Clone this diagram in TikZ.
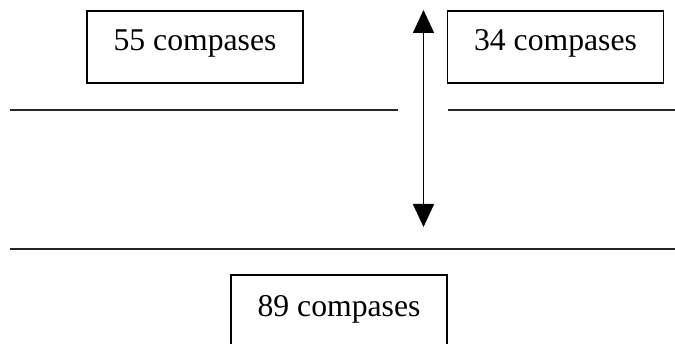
\documentclass[tikz,border=0pt]{standalone}
\usepackage{fontspec}
\setmainfont{Liberation Serif}
\usetikzlibrary{arrows.meta}
\begin{document}
\begin{tikzpicture}[x=1pt,y=-1pt,
  countbox/.style={draw, line width=1.6pt, minimum width=216pt, minimum height=72pt,
    inner sep=0pt, text height=16pt, text depth=8pt,
    font=\fontsize{31.7}{36}\selectfont},
  rule/.style={line width=2pt, black!85},
  flow/.style={line width=1.6pt, {Triangle[length=23pt,width=21pt]}-{Triangle[length=23pt,width=21pt]}}]
  \useasboundingbox (0,0) rectangle (675,344);
  \clip (0,0) rectangle (675,344);

  % quantity boxes
  \node[countbox] (left)  at (195,47)    {55 compases\hspace{11pt}};
  \node[countbox] (right) at (555.5,47)  {34 compases\hspace{11pt}};
  \node[countbox, text height=18pt, text depth=6pt] (total) at (339,311) {89 compases\hspace{10pt}};

  % separating rules
  \coordinate (ruleLa) at (10,110);
  \coordinate (ruleLb) at (398,110);
  \coordinate (ruleRa) at (448,110);
  \coordinate (ruleRb) at (675,110);
  \coordinate (ruleBa) at (10,249);
  \coordinate (ruleBb) at (675,249);
  \draw[rule] (ruleLa) -- (ruleLb);
  \draw[rule] (ruleRa) -- (ruleRb);
  \draw[rule] (ruleBa) -- (ruleBb);

  % double-headed vertical arrow
  \coordinate (up)   at (423.5,10);
  \coordinate (down) at (423.5,227);
  \draw[flow] (up) -- (down);
\end{tikzpicture}
\end{document}
